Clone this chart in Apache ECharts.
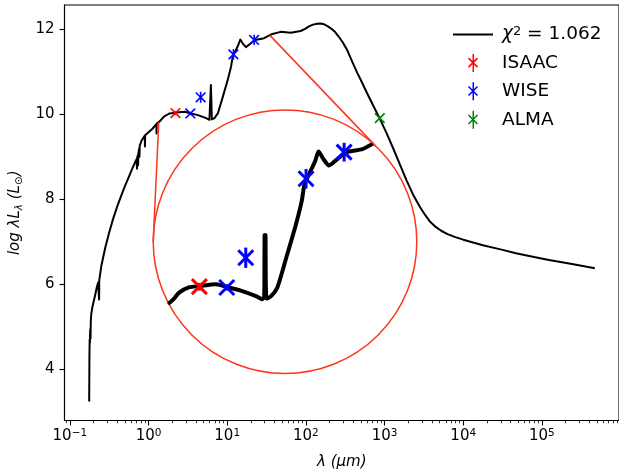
<!DOCTYPE html>
<html>
<head>
<meta charset="utf-8">
<script src="https://cdn.jsdelivr.net/npm/echarts@6/dist/echarts.min.js"></script>
<style>
  html, body { margin: 0; padding: 0; background: #fff; }
  #chart { width: 619px; height: 475px; }
</style>
</head>
<body>
<div id="chart"></div>
<script>
// ---- SED model: log10 wavelength (µm) and log λL_λ (L_sun) ----
const sedLogLambda = [
  -0.754, -0.751, -0.748, -0.745, -0.742, -0.739, -0.737, -0.734, -0.728, -0.715,
  -0.700, -0.678, -0.657, -0.640, -0.630, -0.628, -0.626, -0.600, -0.550, -0.500,
  -0.450, -0.400, -0.350, -0.300, -0.250, -0.200, -0.173, -0.150, -0.147, -0.144,
  -0.135, -0.132, -0.129, -0.118, -0.115, -0.112, -0.088, -0.047, -0.045, -0.043,
  0.000, 0.050, 0.100, 0.102, 0.104, 0.140, 0.164, 0.200, 0.269, 0.354,
  0.459, 0.543, 0.628, 0.733, 0.774, 0.790, 0.793, 0.799, 0.805, 0.838,
  0.881, 0.944, 1.007, 1.049, 1.070, 1.090, 1.141, 1.166, 1.196, 1.238,
  1.301, 1.356, 1.469, 1.575, 1.680, 1.807, 1.933, 1.990, 2.040, 2.090,
  2.144, 2.190, 2.228, 2.280, 2.333, 2.375, 2.417, 2.470, 2.523, 2.565,
  2.610, 2.655, 2.700, 2.780, 2.860, 2.944, 3.030, 3.112, 3.200, 3.281,
  3.360, 3.450, 3.520, 3.580, 3.650, 3.720, 3.800, 3.900, 4.000, 4.250,
  4.500, 4.670, 4.900, 5.090, 5.400, 5.673
];
const sedLogL = [
  3.24, 4.30, 4.70, 4.62, 4.90, 4.95, 4.72, 5.12, 5.30, 5.45,
  5.57, 5.75, 5.93, 6.04, 6.08, 5.64, 6.10, 6.43, 6.86, 7.22,
  7.54, 7.82, 8.07, 8.31, 8.53, 8.75, 8.86, 8.95, 8.72, 8.98,
  9.04, 8.80, 9.08, 9.20, 9.00, 9.26, 9.38, 9.50, 9.24, 9.51,
  9.58, 9.66, 9.77, 9.55, 9.78, 9.83, 9.87, 9.95, 10.02, 10.04,
  10.06, 10.02, 9.98, 9.91, 9.87, 9.90, 10.69, 10.69, 9.88, 9.91,
  10.02, 10.41, 10.81, 11.12, 11.36, 11.43, 11.63, 11.76, 11.67, 11.58,
  11.67, 11.75, 11.79, 11.89, 11.94, 11.92, 11.96, 12.01, 12.07, 12.11,
  12.13, 12.135, 12.12, 12.07, 12.00, 11.93, 11.83, 11.69, 11.52, 11.34,
  11.15, 10.97, 10.80, 10.49, 10.19, 9.88, 9.54, 9.19, 8.80, 8.44,
  8.12, 7.82, 7.62, 7.47, 7.35, 7.26, 7.18, 7.11, 7.05, 6.92,
  6.81, 6.73, 6.64, 6.57, 6.47, 6.38
];
const fitLabel = 'χ² = 1.062';

// ---- Photometry: wavelength (µm), log λL_λ, error (dex) ----
const isaacLambda = [2.2];
const isaacLogL = [10.03];
const isaacErr = [0.05];

const wiseLambda = [3.4, 4.6, 12, 22];
const wiseLogL = [10.02, 10.40, 11.41, 11.75];
const wiseErr = [0.04, 0.13, 0.125, 0.12];

const almaLambda = [870];
const almaLogL = [9.91];
const almaErr = [0.04];

// ---- Axis ticks ----
const xTickExponents = [-1, 0, 1, 2, 3, 4, 5];
const yTicks = [4, 6, 8, 10, 12];

// ---- Layout ----
const X_MIN = -1.068, X_MAX = 5.980;
const Y_MIN = 2.795, Y_MAX = 12.572;
const FONT = 'DejaVu Sans';

// Magnifier: region around SRC_CENTER shown enlarged in a circle at INSET_CENTER
const SRC_CENTER = [0.934, 10.605];
const INSET_CENTER = [1.735, 7.002];
const INSET_RADIUS = 131.8;   // px
const ZOOM = 1.84;
// connector lines: [angle on source circle, angle on inset circle] (deg, screen orientation)
const CONNECTORS = [[152, 180], [-48, -46.5]];
const ZOOM_COLOR = '#ff3519';

const toPts = (lam, val, err) => lam.map((l, i) => [Math.log10(l), val[i], err[i]]);
const isaacData = toPts(isaacLambda, isaacLogL, isaacErr);
const wiseData = toPts(wiseLambda, wiseLogL, wiseErr);
const almaData = toPts(almaLambda, almaLogL, almaErr);
const sedData = sedLogLambda.map((x, i) => [x, sedLogL[i]]);

const minorTicks = [];
for (let n = -2; n <= 6; n++) {
  for (let k = 2; k <= 9; k++) {
    const v = n + Math.log10(k);
    if (v > X_MIN && v < X_MAX) minorTicks.push(v);
  }
}

// x-mark with vertical error bar
function markerShapes(p, top, bot, s, w, color) {
  const style = { stroke: color, lineWidth: w, fill: null };
  return [
    { type: 'line', shape: { x1: p[0] - s, y1: p[1] - s, x2: p[0] + s, y2: p[1] + s }, style },
    { type: 'line', shape: { x1: p[0] - s, y1: p[1] + s, x2: p[0] + s, y2: p[1] - s }, style },
    { type: 'line', shape: { x1: p[0], y1: top[1], x2: p[0], y2: bot[1] }, style }
  ];
}

function renderMarker(params, api) {
  const x = api.value(0), y = api.value(1), e = api.value(2);
  const p = api.coord([x, y]);
  const top = api.coord([x, y + e]);
  const bot = api.coord([x, y - e]);
  return { type: 'group', children: markerShapes(p, top, bot, 4.8, 1.6, api.visual('color')) };
}

function clipToCircle(pts, c, r) {
  const runs = [];
  let cur = null;
  const inside = p => (p[0] - c[0]) ** 2 + (p[1] - c[1]) ** 2 <= r * r;
  const roots = (p, q) => {
    const dx = q[0] - p[0], dy = q[1] - p[1];
    const fx = p[0] - c[0], fy = p[1] - c[1];
    const a = dx * dx + dy * dy, b = 2 * (fx * dx + fy * dy), cc = fx * fx + fy * fy - r * r;
    const d = Math.sqrt(Math.max(0, b * b - 4 * a * cc));
    return [(-b - d) / (2 * a), (-b + d) / (2 * a)];
  };
  const lerp = (p, q, t) => [p[0] + t * (q[0] - p[0]), p[1] + t * (q[1] - p[1])];
  for (let i = 0; i < pts.length; i++) {
    const p = pts[i], pin = inside(p);
    if (i > 0) {
      const q = pts[i - 1], qin = inside(q);
      if (qin && !pin) { cur.push(lerp(q, p, roots(q, p)[1])); runs.push(cur); cur = null; }
      else if (!qin && pin) { cur = [lerp(q, p, roots(q, p)[0])]; }
    }
    if (pin) { if (!cur) cur = []; cur.push(p); }
  }
  if (cur) runs.push(cur);
  return runs;
}

function renderInset(params, api) {
  const c1 = api.coord(SRC_CENTER);
  const c2 = api.coord(INSET_CENTER);
  const r2 = INSET_RADIUS, r1 = INSET_RADIUS / ZOOM;
  const mag = p => [c2[0] + ZOOM * (p[0] - c1[0]), c2[1] + ZOOM * (p[1] - c1[1])];
  const children = [];

  children.push({
    type: 'circle', shape: { cx: c2[0], cy: c2[1], r: r2 },
    style: { fill: '#fff', stroke: ZOOM_COLOR, lineWidth: 1.5 }
  });

  const sedPx = sedData.map(d => mag(api.coord(d)));
  clipToCircle(sedPx, c2, r2 - 1).forEach(run => {
    children.push({
      type: 'polyline', shape: { points: run, smooth: 0.2 },
      style: { stroke: '#000', lineWidth: 4, fill: null, lineJoin: 'round', lineCap: 'round' }
    });
  });

  [[isaacData, '#ff0000'], [wiseData, '#0000ff']].forEach(([data, color]) => {
    data.forEach(d => {
      const p = mag(api.coord([d[0], d[1]]));
      if ((p[0] - c2[0]) ** 2 + (p[1] - c2[1]) ** 2 > r2 * r2) return;
      const top = mag(api.coord([d[0], d[1] + d[2]]));
      const bot = mag(api.coord([d[0], d[1] - d[2]]));
      markerShapes(p, top, bot, 7.5, 3, color).forEach(s => children.push(s));
    });
  });

  CONNECTORS.forEach(([a1, a2]) => {
    const t1 = a1 * Math.PI / 180, t2 = a2 * Math.PI / 180;
    children.push({
      type: 'line',
      shape: {
        x1: c1[0] + r1 * Math.cos(t1), y1: c1[1] + r1 * Math.sin(t1),
        x2: c2[0] + r2 * Math.cos(t2), y2: c2[1] + r2 * Math.sin(t2)
      },
      style: { stroke: ZOOM_COLOR, lineWidth: 1.5 }
    });
  });

  return { type: 'group', children };
}

const asteriskIcon = 'path://M4.3,0L5.7,0L5.7,17L4.3,17Z' +
  'M1,3.5L9.5,12L8.5,13L0,4.5Z' +
  'M8.5,3.5L9.5,4.5L1,13L0,12Z';

const chart = echarts.init(document.getElementById('chart'), null, { renderer: 'canvas' });

const expLabel = v => {
  const n = Math.round(v);
  return '{b|10}{s|' + (n < 0 ? '\u2212' + (-n) : n) + '}';
};

chart.setOption({
  animation: false,
  backgroundColor: '#fff',
  textStyle: { fontFamily: FONT },
  grid: {
    left: 63, top: 5, width: 557.5, height: 415.5,
    show: true, borderColor: '#000', borderWidth: 1.1, backgroundColor: 'transparent'
  },
  legend: {
    orient: 'vertical', left: 448, top: 20,
    itemWidth: 40, itemHeight: 18, itemGap: 9.4,
    selectedMode: false,
    textStyle: {
      fontFamily: FONT, fontSize: 18.5, color: '#000', lineHeight: 18, padding: [0, 0, 0, 4],
      rich: {
        t: { fontFamily: FONT, fontSize: 18.5, color: '#000', lineHeight: 18 },
        c: { fontFamily: FONT, fontSize: 18.5, fontStyle: 'italic', color: '#000', lineHeight: 18 },
        s: { fontFamily: FONT, fontSize: 13, color: '#000', verticalAlign: 'top', lineHeight: 12 }
      }
    },
    formatter: name => name === fitLabel ? '{c|χ}{s|2}{t| = 1.062}' : '{t|' + name + '}',
    data: [
      { name: fitLabel, icon: 'path://M0,0H40V2.2H0Z' },
      { name: 'ISAAC', icon: asteriskIcon },
      { name: 'WISE', icon: asteriskIcon },
      { name: 'ALMA', icon: asteriskIcon }
    ]
  },
  xAxis: [{
    type: 'value', min: X_MIN, max: X_MAX, position: 'bottom',
    axisLine: { onZero: false, lineStyle: { color: '#000', width: 1.1 } },
    axisTick: { customValues: xTickExponents, length: 5, lineStyle: { color: '#000', width: 1.1 } },
    axisLabel: {
      customValues: xTickExponents, margin: 7, formatter: expLabel,
      rich: {
        b: { fontFamily: FONT, fontSize: 15, color: '#000', lineHeight: 18 },
        s: { fontFamily: FONT, fontSize: 10.5, color: '#000', verticalAlign: 'top', lineHeight: 11 }
      }
    },
    splitLine: { show: false },
    name: 'λ (µm)', nameLocation: 'middle', nameGap: 34,
    nameTextStyle: { fontFamily: FONT, fontSize: 15, fontStyle: 'italic', color: '#000' }
  }, {
    type: 'value', min: X_MIN, max: X_MAX, position: 'bottom', gridIndex: 0,
    axisLine: { show: false },
    axisTick: { customValues: minorTicks, length: 2.8, lineStyle: { color: '#000', width: 0.8 } },
    axisLabel: { show: false },
    splitLine: { show: false }
  }],
  yAxis: {
    type: 'value', min: Y_MIN, max: Y_MAX,
    axisLine: { show: true, onZero: false, lineStyle: { color: '#000', width: 1.1 } },
    axisTick: { customValues: yTicks, length: 5, lineStyle: { color: '#000', width: 1.1 } },
    axisLabel: { customValues: yTicks, margin: 10, fontFamily: FONT, fontSize: 15, color: '#000' },
    splitLine: { show: false },
    name: '{i|log λL}{sub|λ}{i| (L}{sub|⊙}{i|)}',
    nameLocation: 'middle', nameGap: 35, nameRotate: 90,
    nameTextStyle: {
      rich: {
        i: { fontFamily: FONT, fontSize: 15, fontStyle: 'italic', color: '#000', lineHeight: 18 },
        sub: { fontFamily: FONT, fontSize: 10.5, fontStyle: 'italic', color: '#000', verticalAlign: 'bottom', lineHeight: 12 }
      }
    }
  },
  series: [
    {
      name: fitLabel, type: 'line', data: sedData, xAxisIndex: 0,
      symbol: 'none', showSymbol: false, z: 2, silent: true,
      color: '#000', itemStyle: { color: '#000' },
      lineStyle: { color: '#000', width: 2, join: 'round' }
    },
    {
      name: 'ISAAC', type: 'custom', data: isaacData, renderItem: renderMarker,
      encode: { x: 0, y: 1 }, itemStyle: { color: '#ff0000' }, z: 3, silent: true
    },
    {
      name: 'WISE', type: 'custom', data: wiseData, renderItem: renderMarker,
      encode: { x: 0, y: 1 }, itemStyle: { color: '#0000ff' }, z: 3, silent: true
    },
    {
      name: 'ALMA', type: 'custom', data: almaData, renderItem: renderMarker,
      encode: { x: 0, y: 1 }, itemStyle: { color: '#008000' }, z: 3, silent: true
    },
    {
      name: 'zoom', type: 'custom', data: [INSET_CENTER], renderItem: renderInset,
      encode: { x: 0, y: 1 }, clip: false, z: 5, silent: true
    }
  ]
});
</script>
</body>
</html>
